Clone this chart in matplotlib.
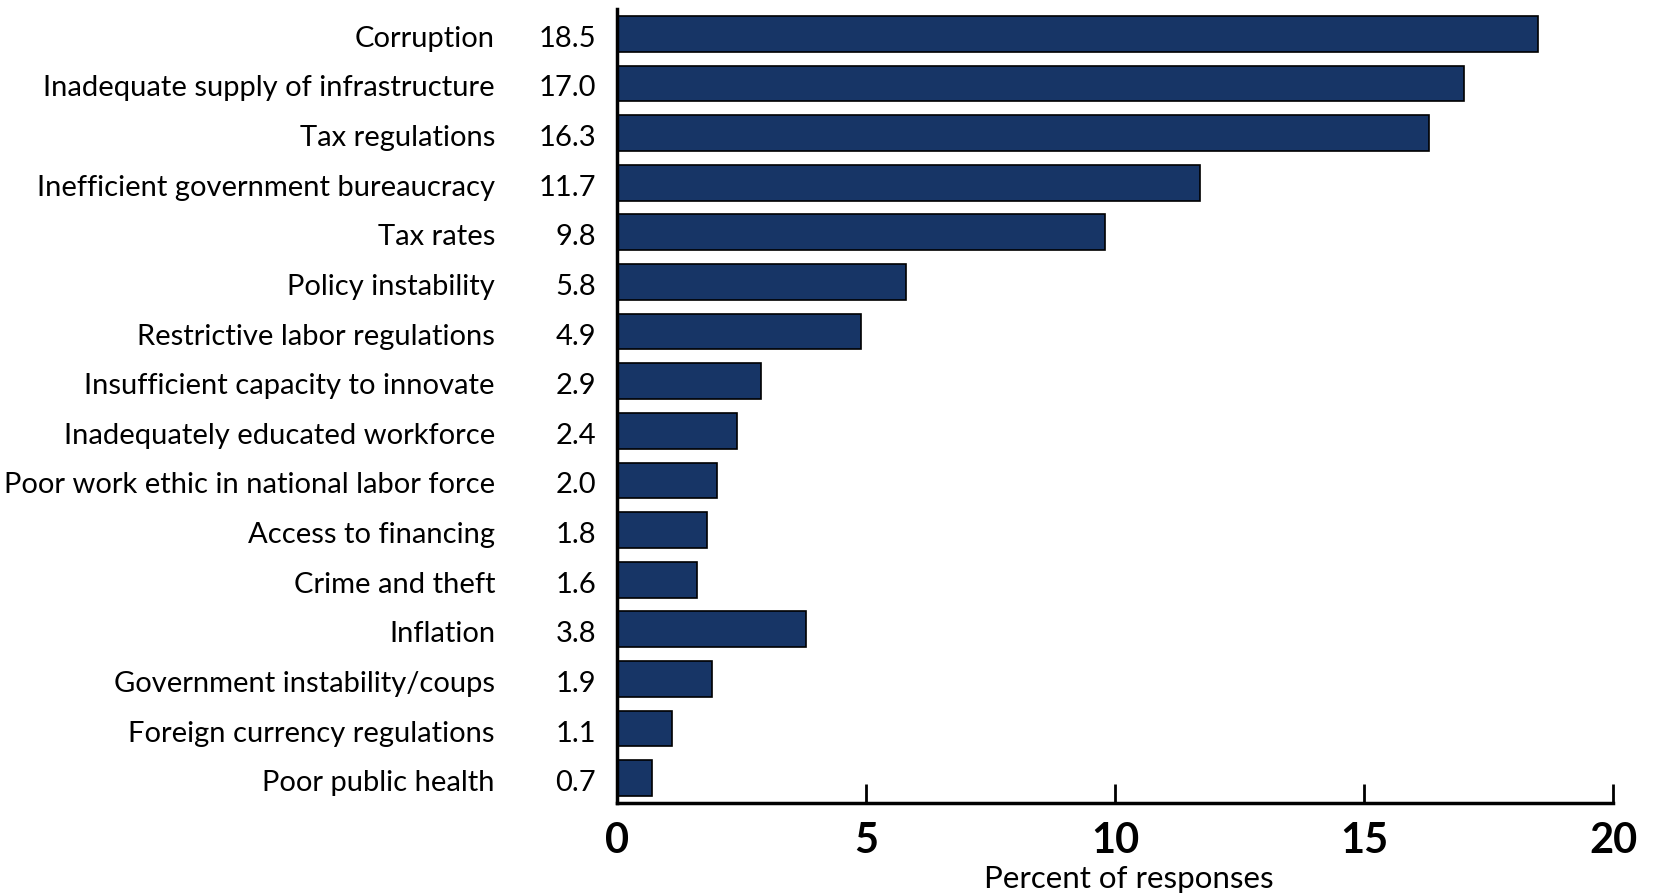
import matplotlib
matplotlib.use("Agg")
import matplotlib.pyplot as plt
from matplotlib.transforms import blended_transform_factory

categories = [
    "Corruption",
    "Inadequate supply of infrastructure",
    "Tax regulations",
    "Inefficient government bureaucracy",
    "Tax rates",
    "Policy instability",
    "Restrictive labor regulations",
    "Insufficient capacity to innovate",
    "Inadequately educated workforce",
    "Poor work ethic in national labor force",
    "Access to financing",
    "Crime and theft",
    "Inflation",
    "Government instability/coups",
    "Foreign currency regulations",
    "Poor public health",
]
values = [18.5, 17.0, 16.3, 11.7, 9.8, 5.8, 4.9, 2.9, 2.4, 2.0, 1.8, 1.6, 3.8, 1.9, 1.1, 0.7]
xticks = [0, 5, 10, 15, 20]
xlabel = "Percent of responses"

plt.rcParams['font.family'] = ['Lato', 'DejaVu Sans']

fig = plt.figure(figsize=(16.55, 8.94), dpi=100)
ax = fig.add_axes([617/1655, 1 - 803/894, (1613-617)/1655, (803-9)/894])

ypos = list(range(len(categories)))
ax.barh(ypos, values, height=0.72, color="#173566", edgecolor="black", linewidth=1.2)

ax.set_xlim(0, 20)
ax.set_ylim(len(categories) - 0.5, -0.5)
ax.set_xticks(xticks)
ax.set_xticklabels([str(t) for t in xticks], fontsize=30, fontweight="bold")
ax.tick_params(axis="x", direction="in", length=14, width=2, pad=14)
ax.set_yticks([])

trans = blended_transform_factory(ax.transAxes, ax.transData)
for y, (c, v) in enumerate(zip(categories, values)):
    ax.annotate(c, xy=(0, y), xycoords=trans, xytext=(-122, -5),
                textcoords="offset pixels", ha="right", va="center", fontsize=21)
    ax.annotate(f"{v:.1f}", xy=(0, y), xycoords=trans, xytext=(-21, -5),
                textcoords="offset pixels", ha="right", va="center", fontsize=21)

for s in ["top", "right"]:
    ax.spines[s].set_visible(False)
ax.spines["left"].set_linewidth(2.5)
ax.spines["bottom"].set_linewidth(2.5)

ax.set_xlabel(xlabel, fontsize=22.5)
ax.xaxis.set_label_coords(0.514, -0.078)

fig.savefig("out.png", dpi=100)
